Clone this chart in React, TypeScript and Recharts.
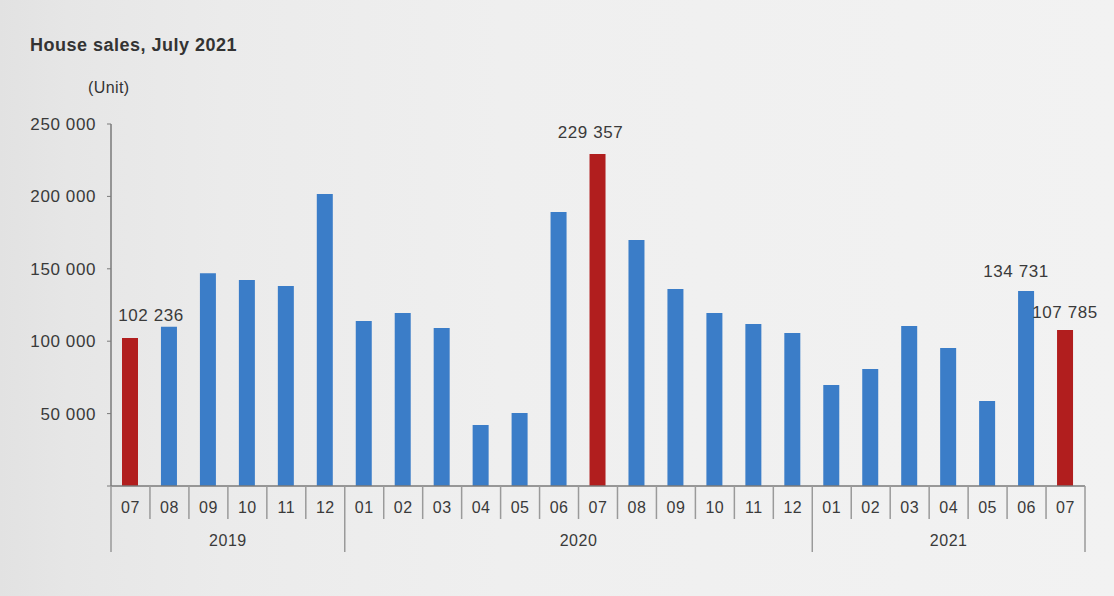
import { BarChart, Bar, XAxis, YAxis, Cell, LabelList } from 'recharts'

// categories
const months = [
  '07', '08', '09', '10', '11', '12',
  '01', '02', '03', '04', '05', '06', '07', '08', '09', '10', '11', '12',
  '01', '02', '03', '04', '05', '06', '07',
]
const years = [
  '2019', '2019', '2019', '2019', '2019', '2019',
  '2020', '2020', '2020', '2020', '2020', '2020', '2020', '2020', '2020', '2020', '2020', '2020',
  '2021', '2021', '2021', '2021', '2021', '2021', '2021',
]
// house sales (units)
const sales = [
  102236, 110000, 147000, 142300, 138100, 201600,
  113900, 119500, 109100, 42100, 50400, 189200, 229357, 169900, 136000, 119500, 111900, 105700,
  69800, 80800, 110500, 95300, 58700, 134731, 107785,
]
const yTicks = [0, 50000, 100000, 150000, 200000, 250000]
const labelledIdx = [0, 12, 23, 24]

const data = months.map((m, i) => ({ key: `${years[i]}-${m}`, month: m, year: years[i], value: sales[i] }))

const W = 1114
const H = 596
const X_AXIS_H = 110
const M = { top: 124, right: 29, bottom: 0, left: 0 }
const Y_AXIS_W = 111
const STEP = (W - M.right - Y_AXIS_W) / data.length

const BLUE = '#3b7dc8'
const RED = '#b11e1e'
const TEXT = '#3a3a3a'
const LINE = '#9a9a9a'
const FONT = '"Liberation Sans", Arial, sans-serif'

// nudges for the value labels, by index
const labelDx: Record<number, number> = { 0: 21, 12: -7, 23: -10, 24: 0 }
const labelDy: Record<number, number> = { 0: -17, 12: -16, 23: -14, 24: -12 }

const fmt = (v: number) => String(v).replace(/\B(?=(\d{3})+(?!\d))/g, ' ')

function MonthTick(props: any) {
  const { x, y, payload } = props
  const i = payload.index
  const d = data[i]
  const isYearStart = i === 0 || d.year !== data[i - 1].year
  const isLast = i === data.length - 1
  const left = x - STEP / 2
  const right = x + STEP / 2

  // year label at the middle of its group
  let yearLabel = null
  const first = data.findIndex((r) => r.year === d.year)
  const count = data.filter((r) => r.year === d.year).length
  if (i === first) {
    const cx = left + (count * STEP) / 2
    yearLabel = (
      <text x={cx} y={y + 60} textAnchor="middle" fontSize={16} letterSpacing={0.5} fill={TEXT} fontFamily={FONT}>
        {d.year}
      </text>
    )
  }

  return (
    <g>
      <line x1={left} x2={left} y1={y} y2={y + (isYearStart ? 66 : 33)} stroke={LINE} strokeWidth={1.5} />
      {isLast && <line x1={right} x2={right} y1={y} y2={y + 66} stroke={LINE} strokeWidth={1.5} />}
      <text x={x} y={y + 27} textAnchor="middle" fontSize={16} letterSpacing={0.5} fill={TEXT} fontFamily={FONT}>
        {d.month}
      </text>
      {yearLabel}
    </g>
  )
}

function ValueLabel(props: any) {
  const { x, y, width, index, value } = props
  if (!labelledIdx.includes(index)) return null
  return (
    <text
      x={x + width / 2 + (labelDx[index] || 0)}
      y={y + (labelDy[index] || -14)}
      textAnchor="middle"
      fontSize={17}
      letterSpacing={0.6}
      fill={TEXT}
      fontFamily={FONT}
    >
      {fmt(value)}
    </text>
  )
}

export default function App() {
  return (
    <div
      style={{
        position: 'absolute',
        left: 0,
        top: 0,
        width: W,
        height: H,
        overflow: 'hidden',
        background: 'linear-gradient(90deg, #e2e2e2 0%, #e6e6e6 6%, #ebebeb 20%, #efefef 45%, #f2f2f2 100%)',
        fontFamily: FONT,
      }}
    >
      <div style={{ position: 'absolute', left: 30, top: 35, fontSize: 18, fontWeight: 'bold', letterSpacing: 0.5, color: '#333' }}>
        House sales, July 2021
      </div>
      <div style={{ position: 'absolute', left: 88, top: 79, fontSize: 16, letterSpacing: 0.4, color: '#333' }}>(Unit)</div>
      <BarChart width={W} height={H} data={data} margin={M} barSize={16}>
        <XAxis
          dataKey="key"
          interval={0}
          tickLine={false}
          tickSize={0}
          tickMargin={0}
          axisLine={{ stroke: '#7a7a7a', strokeWidth: 1.5 }}
          tick={<MonthTick />}
          height={X_AXIS_H}
        />
        <YAxis
          width={Y_AXIS_W}
          domain={[0, 250000]}
          ticks={yTicks}
          interval={0}
          tickFormatter={(v: number) => (v === 0 ? '' : fmt(v))}
          axisLine={{ stroke: '#7a7a7a', strokeWidth: 1.5 }}
          tickLine={{ stroke: '#7a7a7a' }}
          tickSize={4}
          tickMargin={11}
          tick={{ fontSize: 17, fill: TEXT, fontFamily: FONT, letterSpacing: 0.6 }}
        />
        <Bar dataKey="value" isAnimationActive={false}>
          {data.map((d) => (
            <Cell key={d.key} fill={d.month === '07' ? RED : BLUE} />
          ))}
          <LabelList dataKey="value" content={<ValueLabel />} />
        </Bar>
      </BarChart>
    </div>
  )
}
